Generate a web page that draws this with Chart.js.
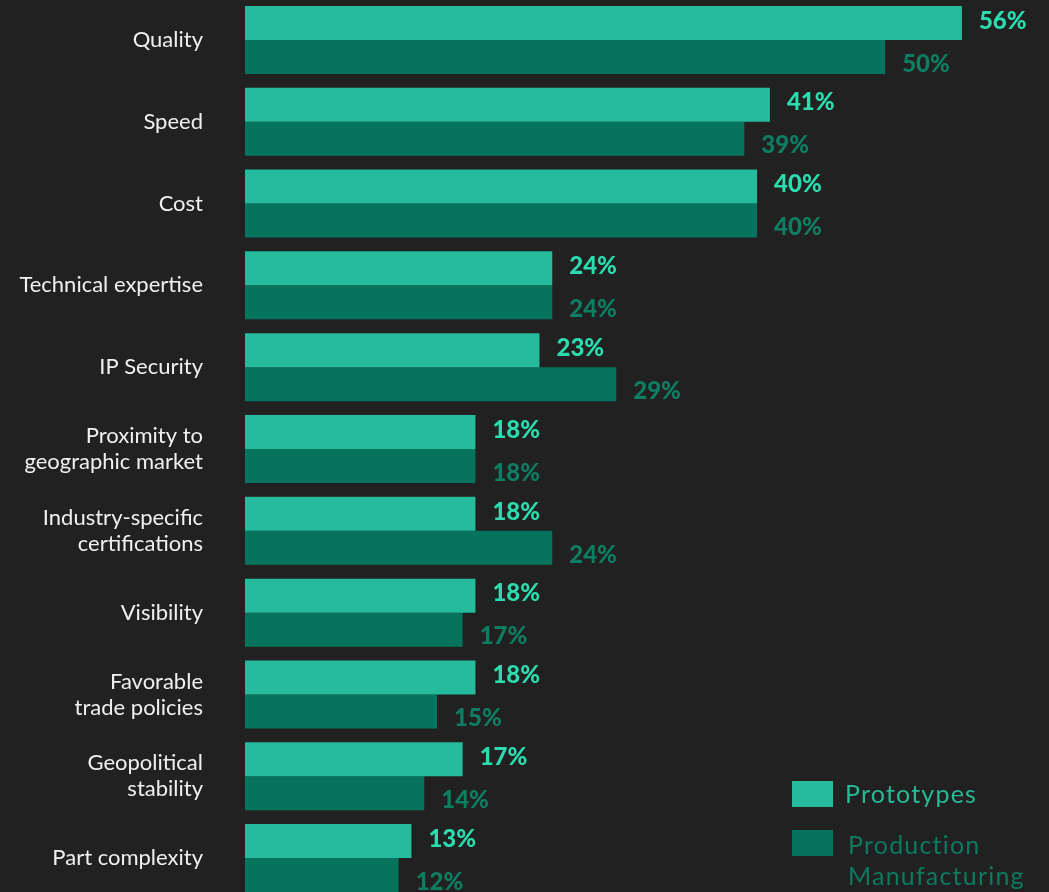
<!DOCTYPE html>
<html>
<head>
<meta charset="utf-8">
<script src="https://cdn.jsdelivr.net/npm/chart.js@4.4.1/dist/chart.umd.min.js"></script>
<style>
  html, body { margin: 0; padding: 0; background: #212121; overflow: hidden; }
  body { width: 1049px; height: 892px; position: relative; font-family: Lato, "Open Sans", sans-serif; }
  #wrap { position: absolute; left: 0; top: -1px; width: 1049px; height: 900px; }
  .legenda { position: absolute; left: 792px; font-size: 25px; line-height: 31px; letter-spacing: 1.2px; }
  .legenda .quadrado { position: absolute; left: 0; width: 41px; height: 26px; }
  .legenda .texto { position: absolute; left: 53px; white-space: nowrap; }
</style>
</head>
<body>
<div id="wrap"><canvas id="grafico"></canvas></div>
<div class="legenda" style="top:781px">
  <div class="quadrado" style="background:#25bb9c"></div>
  <div class="texto" style="top:-3px;color:#27b996">Prototypes</div>
</div>
<div class="legenda" style="top:830px">
  <div class="quadrado" style="background:#06735c"></div>
  <div class="texto" style="top:-1px;left:56px;color:#0b7a5f">Production<br>Manufacturing</div>
</div>
<script>
const categorias = [
  "Quality",
  "Speed",
  "Cost",
  "Technical expertise",
  "IP Security",
  ["Proximity to", "geographic market"],
  ["Industry-specific", "certifications"],
  "Visibility",
  ["Favorable", "trade policies"],
  ["Geopolitical", "stability"],
  "Part complexity"
];
const prototipos = [56, 41, 40, 24, 23, 18, 18, 18, 18, 17, 13];
const producao = [50, 39, 40, 24, 29, 18, 24, 17, 15, 14, 12];

const corProto = "#25bb9c";
const corProd = "#06735c";
const corTextoProto = "#2bdcae";
const corTextoProd = "#0e7e62";

// rotulos de percentagem a frente de cada barra
const rotulosValor = {
  id: "rotulosValor",
  afterDatasetsDraw(chart) {
    const ctx = chart.ctx;
    ctx.save();
    ctx.font = "900 24px Lato, sans-serif";
    ctx.textAlign = "left";
    ctx.textBaseline = "middle";
    chart.data.datasets.forEach((ds, i) => {
      const meta = chart.getDatasetMeta(i);
      ctx.fillStyle = i === 0 ? corTextoProto : corTextoProd;
      const dy = i === 0 ? -2 : 7;
      meta.data.forEach((barra, j) => {
        ctx.fillText(ds.data[j] + "%", barra.x + 17, barra.y + dy);
      });
    });
    ctx.restore();
  }
};

new Chart(document.getElementById("grafico"), {
  type: "bar",
  data: {
    labels: categorias,
    datasets: [
      { label: "Prototypes", data: prototipos, backgroundColor: corProto,
        categoryPercentage: 0.831, barPercentage: 1 },
      { label: "Production Manufacturing", data: producao, backgroundColor: corProd,
        categoryPercentage: 0.831, barPercentage: 1 }
    ]
  },
  options: {
    indexAxis: "y",
    responsive: true,
    maintainAspectRatio: false,
    animation: false,
    layout: { padding: 0 },
    plugins: { legend: { display: false }, tooltip: { enabled: false } },
    scales: {
      x: { display: false, min: 0, max: 62.8 },
      y: {
        afterFit: (escala) => {
          escala.width = 245;
          escala.paddingTop = 0;
          escala.paddingBottom = 0;
        },
        grid: { display: false, drawTicks: false },
        border: { display: false },
        ticks: {
          color: "#f0f0f0",
          padding: 42,
          font: { family: "Lato, sans-serif", size: 22, lineHeight: 1.18 }
        }
      }
    }
  },
  plugins: [rotulosValor]
});
</script>
</body>
</html>
